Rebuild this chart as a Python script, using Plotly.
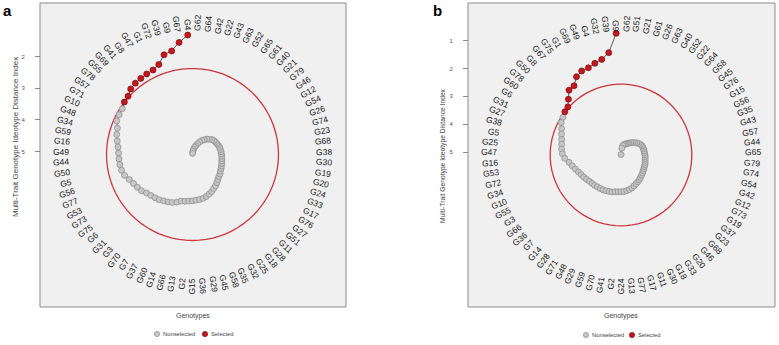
import math
import plotly.graph_objects as go

# ---------------- data ----------------
geno_a = ["G4","G67","G9","G39","G72","G1","G47","G8","G41","G69","G55","G78","G57","G71","G10","G48",
          "G34","G59","G16","G49","G44","G50","G5","G56","G77","G53","G73","G75","G6","G31","G3","G70",
          "G7","G37","G60","G14","G66","G13","G2","G15","G36","G29","G45","G58","G35","G32","G25","G18",
          "G28","G11","G51","G27","G76","G17","G33","G24","G20","G19","G30","G38","G68","G23","G74","G26",
          "G54","G12","G46","G79","G21","G40","G61","G65","G52","G63","G43","G22","G42","G64","G62"]
mgidi_a = [1.32,1.53,1.76,1.82,2.06,2.15,2.17,2.19,2.21,2.25,2.35,2.38,2.45,2.46,2.48,2.58,
           2.62,2.68,2.73,2.76,2.77,2.78,2.80,2.85,2.95,3.02,3.07,3.12,3.20,3.25,3.29,3.32,
           3.37,3.41,3.45,3.51,3.58,3.60,3.62,3.63,3.65,3.66,3.67,3.70,3.74,3.78,3.83,3.87,
           3.92,3.97,4.01,4.03,4.07,4.09,4.11,4.13,4.15,4.16,4.17,4.18,4.19,4.20,4.21,4.23,
           4.25,4.27,4.29,4.32,4.38,4.43,4.50,4.56,4.64,4.72,4.80,4.86,4.93,4.99,5.06]
cutpoint_a = 2.38
radial_range_a = [5.095, 1.243]
radial_ticks_a = [2, 3, 4, 5]

geno_b = ["G9","G39","G32","G4","G49","G69","G1","G75","G67","G8","G50","G78","G60","G6","G31","G27",
          "G38","G5","G25","G47","G16","G53","G72","G34","G10","G55","G3","G66","G36","G7","G14","G28",
          "G71","G48","G29","G59","G70","G41","G2","G24","G13","G77","G17","G11","G30","G18","G33","G20",
          "G46","G68","G23","G37","G19","G73","G12","G42","G54","G74","G79","G65","G44","G57","G43","G35",
          "G56","G15","G76","G45","G58","G64","G22","G52","G40","G63","G26","G61","G21","G51","G62"]
mgidi_b = [0.73,1.40,1.60,1.68,1.76,1.77,1.87,2.10,2.12,2.35,2.53,2.56,2.62,2.66,2.77,2.84,
           2.90,2.94,2.96,3.00,3.08,3.22,3.31,3.39,3.46,3.51,3.55,3.59,3.63,3.65,3.66,3.68,
           3.69,3.70,3.71,3.73,3.74,3.77,3.78,3.785,3.79,3.81,3.83,3.86,3.90,3.94,3.97,4.00,
           4.04,4.07,4.10,4.13,4.15,4.17,4.18,4.20,4.22,4.23,4.24,4.25,4.26,4.265,4.27,4.275,
           4.28,4.31,4.35,4.39,4.45,4.50,4.54,4.59,4.63,4.66,4.69,4.72,4.76,4.86,5.09]
cutpoint_b = 2.56
radial_range_b = [5.108, 0.72]
radial_ticks_b = [1, 2, 3, 4, 5]

legend_labels = ["Nonselected", "Selected"]
y_title = "Multi-Trait Genotype Ideotype Distance Index"
x_title = "Genotypes"

# ---------------- layout constants ----------------
W, H = 779, 345
R = 122
FONT = "Liberation Sans, Arial, sans-serif"
GREY_FILL, GREY_LINE = "#C6C6C6", "#8A8A8A"
RED_FILL, RED_LINE = "#C8161D", "#7A0A0A"

panels = [
    dict(tag="a", geno=geno_a, vals=mgidi_a, cut=cutpoint_a, rng=radial_range_a, ticks=radial_ticks_a,
         cx=192.5, cy=154.5, rect=(40, 3, 346, 307), ytitle_x=15, ytitle_y=137, ytitle_fs=8,
         leg=(157, 334, 205), letter=(8, 11), polar="polar", xa="x", ya="y"),
    dict(tag="b", geno=geno_b, vals=mgidi_b, cut=cutpoint_b, rng=radial_range_b, ticks=radial_ticks_b,
         cx=621, cy=155, rect=(468, 3, 775, 307), ytitle_x=443, ytitle_y=155, ytitle_fs=6.7,
         leg=(586, 335, 632), letter=(437, 11), polar="polar2", xa="x2", ya="y2"),
]

def px(x):
    return x / W

def py(y):
    return 1 - y / H

fig = go.Figure()
shapes, annotations = [], []
layout = {}

for k, p in enumerate(panels):
    geno, vals, n = p["geno"], p["vals"], len(p["geno"])
    sel = [v <= p["cut"] for v in vals]
    # threshold circle
    fig.add_trace(go.Scatterpolar(r=[p["cut"]] * (n + 1), theta=geno + [geno[0]], mode="lines",
                                  line=dict(color="#D0353B", width=1.3), subplot=p["polar"],
                                  showlegend=False, hoverinfo="skip"))
    # connecting path
    fig.add_trace(go.Scatterpolar(r=vals, theta=geno, mode="lines",
                                  line=dict(color="#1A1A1A", width=0.7), subplot=p["polar"],
                                  showlegend=False, hoverinfo="skip"))
    for flag, fill, edge, name in [(False, GREY_FILL, GREY_LINE, legend_labels[0]),
                                   (True, RED_FILL, RED_LINE, legend_labels[1])]:
        fig.add_trace(go.Scatterpolar(
            r=[v for v, s in zip(vals, sel) if s == flag],
            theta=[g for g, s in zip(geno, sel) if s == flag],
            mode="markers", name=name, subplot=p["polar"], showlegend=False,
            marker=dict(size=6, color=fill, line=dict(color=edge, width=0.7))))

    cx, cy = p["cx"], p["cy"]
    layout[p["polar"]] = dict(
        domain=dict(x=[px(cx - R), px(cx + R)], y=[py(cy + R), py(cy - R)]),
        bgcolor="rgba(0,0,0,0)",
        angularaxis=dict(type="category", categoryorder="array", categoryarray=geno,
                         direction="counterclockwise", rotation=90 + 180 / n,
                         showgrid=False, showline=False, ticks="", showticklabels=False),
        radialaxis=dict(range=p["rng"], visible=False, showgrid=False),
    )

    # panel background
    x0, y0, x1, y1 = p["rect"]
    shapes.append(dict(type="rect", xref="paper", yref="paper", x0=px(x0), x1=px(x1), y0=py(y1), y1=py(y0),
                       fillcolor="#F0F0F0", line=dict(color="#8C8C8C", width=1), layer="below"))

    # genotype labels (radial text, like ggplot)
    fs = 8.5
    r0 = R + 1.5
    for i, g in enumerate(geno):
        phi = (i + 0.5) * 360 / n
        ux, uy = -math.sin(math.radians(phi)), -math.cos(math.radians(phi))
        alpha = 360 - phi
        ang = alpha - 90 if alpha < 180 else alpha - 270
        w = fs * (0.778 + 0.556 * (len(g) - 1))
        rc = r0 + w / 2
        annotations.append(dict(x=px(cx + rc * ux), y=py(cy + rc * uy), xref="paper", yref="paper",
                                text=g, showarrow=False, textangle=ang, xanchor="center", yanchor="middle",
                                font=dict(size=fs, color="#1A1A1A", family=FONT), borderpad=0))

    # radial axis drawn as a left cartesian axis
    layout["xaxis" + ("" if k == 0 else str(k + 1))] = dict(domain=[px(x0), px(x1)], visible=False,
                                                              range=[0, 1], anchor=p["ya"])
    layout["yaxis" + ("" if k == 0 else str(k + 1))] = dict(
        domain=[py(cy), py(cy - R)], range=p["rng"], anchor="free", position=px(x0),
        tickvals=p["ticks"], ticks="outside", ticklen=5, tickcolor="#6E6E6E", tickwidth=0.8,
        tickfont=dict(size=6, color="#555555", family=FONT), showgrid=False, zeroline=False,
        showline=False, ticklabelstandoff=9)
    fig.add_trace(go.Scatter(x=[None], y=[None], xaxis=p["xa"], yaxis=p["ya"], showlegend=False,
                             hoverinfo="skip"))

    # titles
    annotations.append(dict(x=px(p["ytitle_x"]), y=py(p["ytitle_y"]), xref="paper", yref="paper",
                            text=y_title, textangle=-90, showarrow=False, xanchor="center", yanchor="middle",
                            font=dict(size=p["ytitle_fs"], color="#444444", family=FONT)))
    annotations.append(dict(x=px(cx), y=py(316), xref="paper", yref="paper", text=x_title, showarrow=False,
                            xanchor="center", yanchor="middle", font=dict(size=7, color="#444444", family=FONT)))
    annotations.append(dict(x=px(p["letter"][0]), y=py(p["letter"][1]), xref="paper", yref="paper",
                            text="<b>" + p["tag"] + "</b>", showarrow=False, xanchor="center", yanchor="middle",
                            font=dict(size=15, color="#000000", family=FONT)))

    # legend
    lx1, ly, lx2 = p["leg"]
    rr = 2.6
    for lx, fill, edge, lab in [(lx1, GREY_FILL, GREY_LINE, legend_labels[0]),
                                (lx2, RED_FILL, RED_LINE, legend_labels[1])]:
        shapes.append(dict(type="circle", xref="paper", yref="paper", x0=px(lx - rr), x1=px(lx + rr),
                           y0=py(ly + rr), y1=py(ly - rr), fillcolor=fill, line=dict(color=edge, width=0.7)))
        annotations.append(dict(x=px(lx + 5), y=py(ly), xref="paper", yref="paper", text=lab, showarrow=False,
                                xanchor="left", yanchor="middle", borderpad=0,
                                font=dict(size=5.8, color="#444444", family=FONT)))

fig.update_layout(width=W, height=H, margin=dict(l=0, r=0, t=0, b=0), paper_bgcolor="white",
                  plot_bgcolor="rgba(0,0,0,0)", showlegend=False, shapes=shapes, annotations=annotations,
                  font=dict(family=FONT), hovermode=False, **layout)
fig.write_html("out.html", config={"displayModeBar": False, "staticPlot": True},
               post_script="document.body.style.margin='0';document.body.style.overflow='hidden';")
